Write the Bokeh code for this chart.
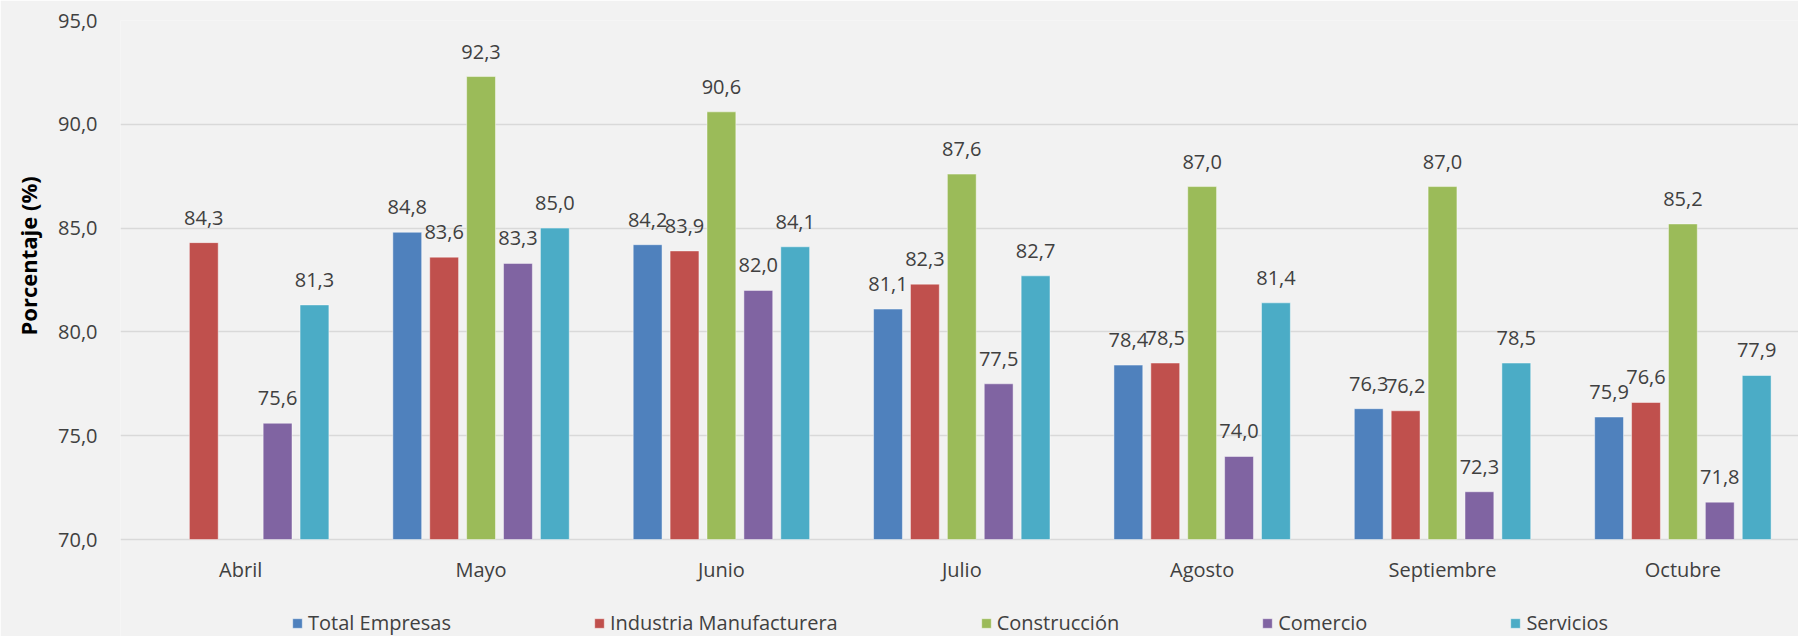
from bokeh.plotting import figure
from bokeh.models import (Range1d, FixedTicker, CustomJSTickFormatter, Legend, LegendItem,
                          ColumnDataSource, Title)
from bokeh.core.properties import value
from bokeh.embed import file_html
from bokeh.resources import INLINE

# ---- data ----
months = ["Abril", "Mayo", "Junio", "Julio", "Agosto", "Septiembre", "Octubre"]
series_names = ["Total Empresas", "Industria Manufacturera", "Construcción", "Comercio", "Servicios"]
total_empresas = [None, 84.8, 84.2, 81.1, 78.4, 76.3, 75.9]
industria = [84.3, 83.6, 83.9, 82.3, 78.5, 76.2, 76.6]
construccion = [None, 92.3, 90.6, 87.6, 87.0, 87.0, 85.2]
comercio = [75.6, 83.3, 82.0, 77.5, 74.0, 72.3, 71.8]
servicios = [81.3, 85.0, 84.1, 82.7, 81.4, 78.5, 77.9]
y_ticks = [70, 75, 80, 85, 90, 95]
y_title = "Porcentaje (%)"

colors = ["#4f81bd", "#c0504d", "#9bbb59", "#8064a2", "#4bacc6"]
all_series = [total_empresas, industria, construccion, comercio, servicios]

FONT = "Open Sans"
TXT = "#404040"
BG = "#f2f2f2"

# frame spans 20..636 px; 70 sits at 539 px and 95 at 20 px
y_lo = 70 - (636 - 539) * 25 / (539 - 20)

p = figure(width=1798, height=636, output_backend="svg", toolbar_location=None,
           x_range=Range1d(-0.5, 6.481), y_range=Range1d(y_lo, 95),
           background_fill_color=BG, border_fill_color=BG,
           min_border_left=119, min_border_top=20, min_border_bottom=0, min_border_right=0)
p.outline_line_color = None

# grid
p.xgrid.grid_line_color = None
p.ygrid.grid_line_color = "#d9d9d9"
p.ygrid.grid_line_width = 1.5

# y axis
p.yaxis.ticker = FixedTicker(ticks=y_ticks)
p.yaxis.formatter = CustomJSTickFormatter(code="return tick.toFixed(1).replace('.', ',');")
p.yaxis.axis_line_color = None
p.yaxis.major_tick_line_color = None
p.yaxis.minor_tick_line_color = None
p.yaxis.major_tick_in = 0
p.yaxis.major_tick_out = 0
p.yaxis.major_label_standoff = 23
p.yaxis.major_label_text_font = FONT
p.yaxis.major_label_text_font_size = "20px"
p.yaxis.major_label_text_color = TXT

ytitle = Title(text=y_title, align="left", offset=301, vertical_align="middle",
               text_font=FONT, text_font_size="22px", text_font_style="bold",
               text_color="#000000", standoff=23)
p.add_layout(ytitle, "left")

# x axis (drawn at y = 70, takes no panel space)
p.xaxis.fixed_location = 70
p.xaxis.ticker = FixedTicker(ticks=list(range(len(months))))
p.xaxis.major_label_overrides = {i: m for i, m in enumerate(months)}
p.xaxis.axis_line_color = None
p.xaxis.major_tick_line_color = None
p.xaxis.minor_tick_line_color = None
p.xaxis.major_tick_in = 0
p.xaxis.major_tick_out = 0
p.xaxis.major_label_standoff = 16
p.xaxis.major_label_text_font = FONT
p.xaxis.major_label_text_font_size = "20px"
p.xaxis.major_label_text_color = TXT

step = 0.1535
bar_w = 0.12
items = []
for k, (name, vals, col) in enumerate(zip(series_names, all_series, colors)):
    xs, tops, labels = [], [], []
    for i, v in enumerate(vals):
        if v is None:
            continue
        xs.append(i + (k - 2) * step)
        tops.append(v)
        labels.append(f"{v:.1f}".replace(".", ","))
    src = ColumnDataSource(dict(x=xs, top=tops, label=labels))
    r = p.vbar(x="x", top="top", bottom=70, width=bar_w, source=src,
               fill_color=col, line_color="#ffffff", line_alpha=0.45, line_width=1)
    p.text(x="x", y="top", text="label", source=src, y_offset=-25,
           text_align="center", text_baseline="middle",
           text_font=value(FONT), text_font_size="20px", text_color=TXT)
    items.append(LegendItem(label=name, renderers=[r]))

legend = Legend(items=items, orientation="horizontal", location=(171, 0),
                glyph_width=12, glyph_height=12, label_standoff=5, spacing=142,
                padding=0, margin=0, label_height=20,
                background_fill_alpha=0, border_line_alpha=0,
                label_text_font=FONT, label_text_font_size="20px", label_text_color=TXT)
p.add_layout(legend, "center")

open("out.html", "w").write(file_html(p, INLINE))
